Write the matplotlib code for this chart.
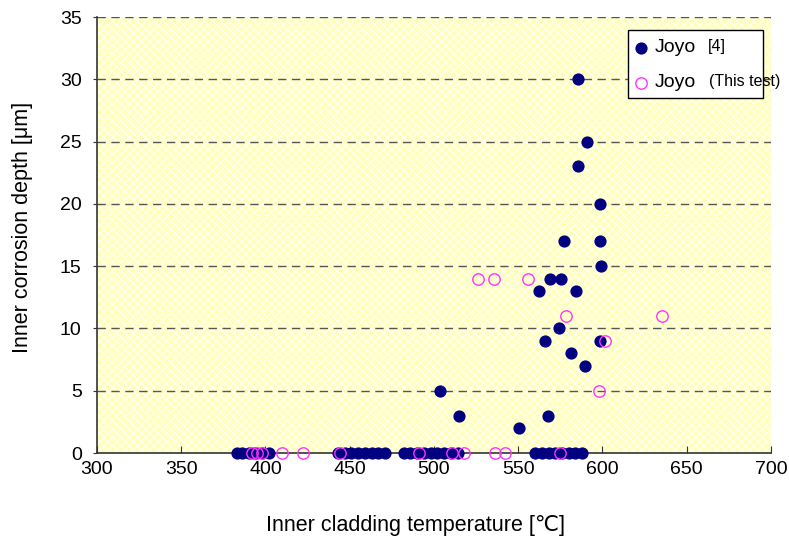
import matplotlib
matplotlib.use("Agg")
import matplotlib.pyplot as plt
from matplotlib.patches import Rectangle

plt.rcParams['font.family'] = ['Liberation Sans', 'DejaVu Sans']

# Joyo [4] (filled)
joyo4_temp = [585.5, 590.8, 585.5, 598.5, 577, 598.5, 599, 568.8, 575.3, 562.3, 584.3,
              574.2, 565.9, 598.5, 581.3, 589.6, 503.6, 514.8, 550.6, 567.6,
              383, 386, 390, 394, 398, 402,
              443, 447, 451, 455, 459, 463, 467, 471,
              482, 486, 490, 494, 498, 502, 506, 510, 514,
              560, 564, 568, 572, 576, 580, 584, 588]
joyo4_depth = [30, 25, 23, 20, 17, 17, 15, 14, 14, 13, 13,
               10, 9, 9, 8, 7, 5, 3, 2, 3,
               0, 0, 0, 0, 0, 0,
               0, 0, 0, 0, 0, 0, 0, 0,
               0, 0, 0, 0, 0, 0, 0, 0, 0,
               0, 0, 0, 0, 0, 0, 0, 0]

# Joyo (This test) (open)
this_temp = [526, 535.6, 555.8, 578.3, 601.5, 598.2, 635.3,
             392, 395, 398, 410, 422, 444, 491, 511, 518, 536, 542, 575]
this_depth = [14, 14, 14, 11, 9, 5, 11,
              0, 0, 0, 0, 0, 0, 0, 0, 0, 0, 0, 0]

xticks = [300, 350, 400, 450, 500, 550, 600, 650, 700]
yticks = [0, 5, 10, 15, 20, 25, 30, 35]

fig = plt.figure(figsize=(7.89, 5.40), dpi=100)
ax = fig.add_axes([0.1229, 0.1611, 0.8542, 0.8074])
ax.set_facecolor('#ffffb8')
ax.add_patch(Rectangle((0, 0), 1, 1, transform=ax.transAxes, facecolor='none',
                       edgecolor='#fffff0', hatch='xxxx', linewidth=0, zorder=0))

for y in yticks[1:]:
    ax.axhline(y, color='#555555', linestyle=(0, (6, 4)), linewidth=1.0, zorder=1)

filled_style = dict(color='#000080', markersize=8.8, markeredgewidth=0, linestyle='none')
open_style = dict(markerfacecolor='none', markeredgecolor='#ff33ff', markersize=8.2,
                  markeredgewidth=1.0, linestyle='none')

ax.plot(joyo4_temp, joyo4_depth, 'o', clip_on=False, zorder=3, **filled_style)
ax.plot(this_temp, this_depth, 'o', clip_on=False, zorder=4, **open_style)

ax.set_xlim(300, 700)
ax.set_ylim(0, 35)
ax.set_xticks(xticks)
ax.set_yticks(yticks)
ax.tick_params(axis='x', direction='in', length=5, labelsize=14, pad=6, color='#333333')
ax.tick_params(axis='y', direction='out', length=3, labelsize=14, pad=8, color='#333333')
for s in ['top', 'right']:
    ax.spines[s].set_visible(False)
for s in ['left', 'bottom']:
    ax.spines[s].set_color('#333333')
    ax.spines[s].set_linewidth(1.2)

ax.set_xlabel('Inner cladding temperature [℃]', fontsize=15.5)
ax.set_ylabel('Inner corrosion depth [μm]', fontsize=15.5)
ax.xaxis.set_label_coords(0.472, -0.143)
ax.yaxis.set_label_coords(-0.095, 0.518)

# Legend box (drawn manually to reproduce overflowing text)
ax.add_patch(Rectangle((0.788, 0.814), 0.200, 0.156, transform=ax.transAxes,
                       facecolor='white', edgecolor='black', linewidth=1.0,
                       clip_on=False, zorder=6))
ax.plot([0.807], [0.929], 'o', transform=ax.transAxes, clip_on=False, zorder=7,
        **filled_style)
ax.plot([0.807], [0.849], 'o', transform=ax.transAxes, clip_on=False, zorder=7,
        **open_style)
ax.text(0.828, 0.929, 'Joyo', transform=ax.transAxes, fontsize=14, va='center',
        ha='left', zorder=8)
ax.text(0.828, 0.849, 'Joyo', transform=ax.transAxes, fontsize=14, va='center',
        ha='left', zorder=8)
ax.text(0.906, 0.932, '[4]', transform=ax.transAxes, fontsize=11.5, va='center',
        ha='left', zorder=8)
ax.text(0.908, 0.852, '(This test)', transform=ax.transAxes, fontsize=11.5, va='center',
        ha='left', zorder=8, clip_on=False)

fig.savefig('out.png', dpi=100)
